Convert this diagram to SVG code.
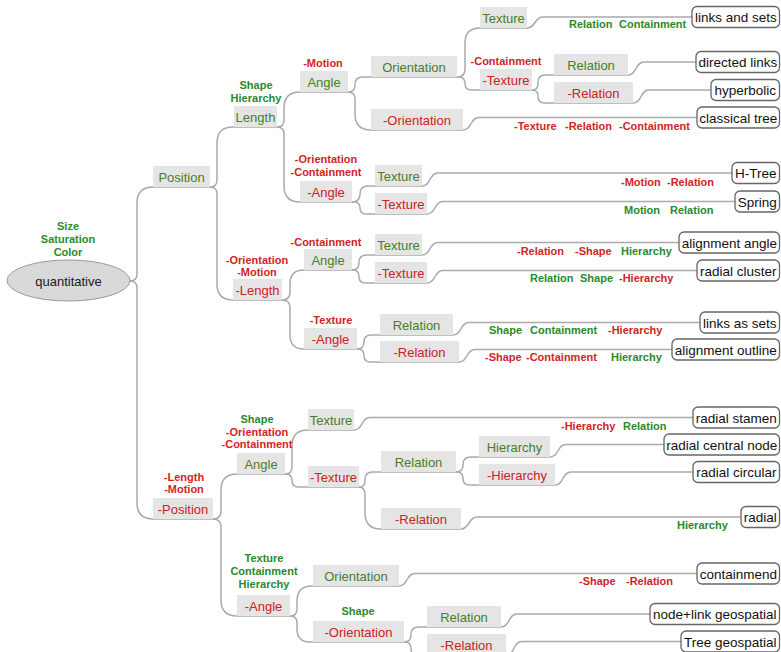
<svg xmlns="http://www.w3.org/2000/svg" width="781" height="652" viewBox="0 0 781 652">
<style>
.box{fill:#e5e5e5}
.nt{font-family:"Liberation Sans",Arial,sans-serif;font-size:13px;text-anchor:middle}
.g{fill:#4a7d25}
.r{fill:#cc2222}
.lb{font-family:"Liberation Sans",Arial,sans-serif;font-size:11px;font-weight:bold;text-anchor:middle}
.el{font-family:"Liberation Sans",Arial,sans-serif;font-size:11px;font-weight:bold}
.lg{fill:#2a8a2a}
.lr{fill:#d02525}
.leaf rect{fill:#fff;stroke:#666;stroke-width:1.3}
.lt{font-family:"Liberation Sans",Arial,sans-serif;font-size:13.5px;fill:#111;text-anchor:middle}
#connectors path{fill:none;stroke:#aaa;stroke-width:1.5}
</style>
<g id="connectors">
<path d="M130 281 Q137 281 137 274 L137 203 Q137 187 153 187 L210 187"/>
<path d="M130 281 Q137 281 137 288 L137 503 Q137 519 153 519 L213 519"/>
<path d="M210 187 Q217 187 217 180 L217 143 Q217 127 233 127 L277 127"/>
<path d="M210 187 Q217 187 217 194 L217 284 Q217 300 233 300 L282 300"/>
<path d="M277 127 Q284 127 284 120 L284 108 Q284 92 300 92 L348 92"/>
<path d="M277 127 Q284 127 284 134 L284 186 Q284 202 300 202 L352 202"/>
<path d="M348 92 Q355 92 355 85 L355 84.5 Q355 77 362.5 77 L457 77"/>
<path d="M348 92 Q355 92 355 99 L355 114 Q355 130 371 130 L463 130"/>
<path d="M457 77 Q465 77 465 69 L465 43 Q465 28 480 28 L527 28"/>
<path d="M457 77 L458.5 77 Q465 77 465 83.5 Q465 90 471.5 90 L532 90"/>
<path d="M532 90 Q538 90 538 84 L538 82.5 Q538 75 545.5 75 L628 75"/>
<path d="M532 90 Q538 90 538 96 L538 96.5 Q538 103 544.5 103 L633 103"/>
<path d="M352 202 Q360 202 360 194 Q360 186 368 186 L422 186"/>
<path d="M352 202 L354 202 Q360 202 360 208 Q360 214 366 214 L427 214"/>
<path d="M282 300 Q290 300 290 292 L290 284 Q290 270 304 270 L352 270"/>
<path d="M282 300 Q290 300 290 308 L290 335 Q290 349 304 349 L357 349"/>
<path d="M352 270 Q359 270 359 263 L359 262.5 Q359 255 366.5 255 L422 255"/>
<path d="M352 270 L352.5 270 Q359 270 359 276.5 Q359 283 365.5 283 L427 283"/>
<path d="M357 349 Q364 349 364 342 Q364 335 371 335 L453 335"/>
<path d="M357 349 L357.5 349 Q364 349 364 355.5 Q364 362 370.5 362 L459 362"/>
<path d="M213 519 Q221 519 221 511 L221 490 Q221 474 237 474 L285 474"/>
<path d="M213 519 Q221 519 221 527 L221 600 Q221 616 237 616 L290 616"/>
<path d="M285 474 Q292 474 292 467 L292 446 Q292 430 308 430 L354 430"/>
<path d="M285 474 L285.5 474 Q292 474 292 480.5 Q292 487 298.5 487 L359 487"/>
<path d="M359 487 Q365 487 365 481 L365 479.5 Q365 472 372.5 472 L456 472"/>
<path d="M359 487 Q365 487 365 495 L365 513 Q365 529 381 529 L461 529"/>
<path d="M456 472 Q463 472 463 465 L463 464.5 Q463 457 470.5 457 L550 457"/>
<path d="M456 472 L456.5 472 Q463 472 463 478.5 Q463 485 469.5 485 L555 485"/>
<path d="M290 616 Q297 616 297 609 L297 601 Q297 586 312 586 L399 586"/>
<path d="M290 616 Q297 616 297 623 L297 629 Q297 642 310 642 L404 642"/>
<path d="M404 642 Q411 642 411 635 L411 634.5 Q411 627 418.5 627 L501 627"/>
<path d="M404 642 L404.5 642 Q411 642 411 648.5 Q411 655 417.5 655 L506 655"/>
<path d="M527 28 C536 28 534 17 543 17 L692 17"/>
<path d="M628 75 C637 75 635 62 644 62 L696 62"/>
<path d="M633 103 C642 103 640 90 649 90 L711 90"/>
<path d="M463 130 C472 130 470 117.5 479 117.5 L697 117.5"/>
<path d="M422 186 C431 186 429 173 438 173 L732 173"/>
<path d="M427 214 C436 214 434 201.5 443 201.5 L735 201.5"/>
<path d="M422 255 C431 255 429 242.5 438 242.5 L679 242.5"/>
<path d="M427 283 C436 283 434 270.5 443 270.5 L697 270.5"/>
<path d="M453 335 C462 335 460 322.5 469 322.5 L700 322.5"/>
<path d="M459 362 C468 362 466 349.5 475 349.5 L672 349.5"/>
<path d="M354 430 C363 430 361 417.5 370 417.5 L693 417.5"/>
<path d="M550 457 C559 457 557 444.5 566 444.5 L664 444.5"/>
<path d="M555 485 C564 485 562 472 571 472 L693 472"/>
<path d="M461 529 C470 529 468 517 477 517 L741 517"/>
<path d="M399 586 C408 586 406 573.5 415 573.5 L697 573.5"/>
<path d="M501 627 C510 627 508 614 517 614 L650 614"/>
<path d="M506 655 C515 655 513 641.5 522 641.5 L681 641.5"/>
</g>
<g id="edge-labels" class="el">
<text y="28"><tspan x="569" class="lg">Relation</tspan><tspan x="619" class="lg">Containment</tspan></text>
<text y="130"><tspan x="514" class="lr">-Texture</tspan><tspan x="565" class="lr">-Relation</tspan><tspan x="619" class="lr">-Containment</tspan></text>
<text y="186"><tspan x="621" class="lr">-Motion</tspan><tspan x="667" class="lr">-Relation</tspan></text>
<text y="214"><tspan x="624" class="lg">Motion</tspan><tspan x="670" class="lg">Relation</tspan></text>
<text y="255"><tspan x="517" class="lr">-Relation</tspan><tspan x="575" class="lr">-Shape</tspan><tspan x="621" class="lg">Hierarchy</tspan></text>
<text y="282"><tspan x="530" class="lg">Relation</tspan><tspan x="580" class="lg">Shape</tspan><tspan x="619" class="lr">-Hierarchy</tspan></text>
<text y="334"><tspan x="489" class="lg">Shape</tspan><tspan x="530" class="lg">Containment</tspan><tspan x="608" class="lr">-Hierarchy</tspan></text>
<text y="361"><tspan x="485" class="lr">-Shape</tspan><tspan x="526" class="lr">-Containment</tspan><tspan x="611" class="lg">Hierarchy</tspan></text>
<text y="430"><tspan x="561" class="lr">-Hierarchy</tspan><tspan x="623" class="lg">Relation</tspan></text>
<text y="529"><tspan x="677" class="lg">Hierarchy</tspan></text>
<text y="585"><tspan x="579" class="lr">-Shape</tspan><tspan x="626" class="lr">-Relation</tspan></text>
</g>
<g id="root">
<ellipse cx="68.5" cy="280.5" rx="61.5" ry="20.5" fill="#d9d9d9" stroke="#9a9a9a" stroke-width="1"/>
<text x="68.5" y="286" class="nt" fill="#1a1a1a">quantitative</text>
<text x="68" y="230" class="lb lg">Size</text>
<text x="68" y="243" class="lb lg">Saturation</text>
<text x="68" y="256" class="lb lg">Color</text>
</g>
<g id="n-position"><rect class="box" x="153" y="166" width="57" height="21"/><text x="181.5" y="182" class="nt g">Position</text></g>
<g id="n-neg-position"><rect class="box" x="153" y="498" width="60" height="21"/><text x="183" y="514" class="nt r">-Position</text>
<text x="184" y="481" class="lb lr">-Length</text><text x="184" y="493" class="lb lr">-Motion</text></g>
<g id="n-length"><rect class="box" x="234" y="106" width="43" height="21"/><text x="255.5" y="122" class="nt g">Length</text>
<text x="256" y="89" class="lb lg">Shape</text><text x="256" y="102" class="lb lg">Hierarchy</text></g>
<g id="n-neg-length"><rect class="box" x="233" y="279" width="49" height="21"/><text x="257.5" y="295" class="nt r">-Length</text>
<text x="257" y="264" class="lb lr">-Orientation</text><text x="257" y="276" class="lb lr">-Motion</text></g>
<g id="n-l-angle"><rect class="box" x="300" y="71" width="48" height="21"/><text x="324" y="87" class="nt g">Angle</text>
<text x="323" y="67" class="lb lr">-Motion</text></g>
<g id="n-l-neg-angle"><rect class="box" x="300" y="181" width="52" height="21"/><text x="326" y="197" class="nt r">-Angle</text>
<text x="326" y="163" class="lb lr">-Orientation</text><text x="326" y="176" class="lb lr">-Containment</text></g>
<g id="n-l-a-orientation"><rect class="box" x="371" y="56" width="86" height="21"/><text x="414" y="72" class="nt g">Orientation</text></g>
<g id="n-l-a-neg-orientation"><rect class="box" x="371" y="109" width="92" height="21"/><text x="417" y="125" class="nt r">-Orientation</text></g>
<g id="n-l-a-o-texture"><rect class="box" x="480" y="7" width="47" height="21"/><text x="503.5" y="23" class="nt g">Texture</text></g>
<g id="n-l-a-o-neg-texture"><rect class="box" x="480" y="69" width="52" height="21"/><text x="506" y="85" class="nt r">-Texture</text>
<text x="506" y="65" class="lb lr">-Containment</text></g>
<g id="n-l-a-o-t-relation"><rect class="box" x="554" y="54" width="74" height="21"/><text x="591" y="70" class="nt g">Relation</text></g>
<g id="n-l-a-o-t-neg-relation"><rect class="box" x="554" y="82" width="79" height="21"/><text x="593.5" y="98" class="nt r">-Relation</text></g>
<g id="n-l-na-texture"><rect class="box" x="375" y="165" width="47" height="21"/><text x="398.5" y="181" class="nt g">Texture</text></g>
<g id="n-l-na-neg-texture"><rect class="box" x="375" y="193" width="52" height="21"/><text x="401" y="209" class="nt r">-Texture</text></g>
<g id="n-nl-angle"><rect class="box" x="304" y="249" width="48" height="21"/><text x="328" y="265" class="nt g">Angle</text>
<text x="326" y="246" class="lb lr">-Containment</text></g>
<g id="n-nl-neg-angle"><rect class="box" x="304" y="328" width="53" height="21"/><text x="330.5" y="344" class="nt r">-Angle</text>
<text x="331" y="324" class="lb lr">-Texture</text></g>
<g id="n-nl-a-texture"><rect class="box" x="375" y="234" width="47" height="21"/><text x="398.5" y="250" class="nt g">Texture</text></g>
<g id="n-nl-a-neg-texture"><rect class="box" x="375" y="262" width="52" height="21"/><text x="401" y="278" class="nt r">-Texture</text></g>
<g id="n-nl-na-relation"><rect class="box" x="380" y="314" width="73" height="21"/><text x="416.5" y="330" class="nt g">Relation</text></g>
<g id="n-nl-na-neg-relation"><rect class="box" x="380" y="341" width="79" height="21"/><text x="419.5" y="357" class="nt r">-Relation</text></g>
<g id="n-np-angle"><rect class="box" x="237" y="453" width="48" height="21"/><text x="261" y="469" class="nt g">Angle</text>
<text x="257" y="423" class="lb lg">Shape</text><text x="257" y="436" class="lb lr">-Orientation</text><text x="257" y="448" class="lb lr">-Containment</text></g>
<g id="n-np-neg-angle"><rect class="box" x="237" y="595" width="53" height="21"/><text x="263.5" y="611" class="nt r">-Angle</text>
<text x="264" y="562" class="lb lg">Texture</text><text x="264" y="575" class="lb lg">Containment</text><text x="264" y="588" class="lb lg">Hierarchy</text></g>
<g id="n-np-a-texture"><rect class="box" x="308" y="409" width="46" height="21"/><text x="331" y="425" class="nt g">Texture</text></g>
<g id="n-np-a-neg-texture"><rect class="box" x="308" y="466" width="51" height="21"/><text x="333.5" y="482" class="nt r">-Texture</text></g>
<g id="n-np-a-nt-relation"><rect class="box" x="381" y="451" width="75" height="21"/><text x="418.5" y="467" class="nt g">Relation</text></g>
<g id="n-np-a-nt-neg-relation"><rect class="box" x="381" y="508" width="80" height="21"/><text x="421" y="524" class="nt r">-Relation</text></g>
<g id="n-np-a-nt-r-hierarchy"><rect class="box" x="479" y="436" width="71" height="21"/><text x="514.5" y="452" class="nt g">Hierarchy</text></g>
<g id="n-np-a-nt-r-neg-hierarchy"><rect class="box" x="479" y="464" width="76" height="21"/><text x="517" y="480" class="nt r">-Hierarchy</text></g>
<g id="n-np-na-orientation"><rect class="box" x="313" y="565" width="86" height="21"/><text x="356" y="581" class="nt g">Orientation</text></g>
<g id="n-np-na-neg-orientation"><rect class="box" x="313" y="621" width="91" height="21"/><text x="358.5" y="637" class="nt r">-Orientation</text>
<text x="358" y="615" class="lb lg">Shape</text></g>
<g id="n-np-na-no-relation"><rect class="box" x="427" y="606" width="74" height="21"/><text x="464" y="622" class="nt g">Relation</text></g>
<g id="n-np-na-no-neg-relation"><rect class="box" x="427" y="634" width="79" height="21"/><text x="466.5" y="650" class="nt r">-Relation</text></g>
<g id="leaf-links-and-sets" class="leaf"><rect x="692" y="6.5" width="87.5" height="21" rx="5"/><text x="735.8" y="22" class="lt">links and sets</text></g>
<g id="leaf-directed-links" class="leaf"><rect x="696" y="51.5" width="83.5" height="21" rx="5"/><text x="737.8" y="67" class="lt">directed links</text></g>
<g id="leaf-hyperbolic" class="leaf"><rect x="711" y="79.5" width="68.5" height="21" rx="5"/><text x="745.3" y="95" class="lt">hyperbolic</text></g>
<g id="leaf-classical-tree" class="leaf"><rect x="697" y="107" width="82.5" height="21" rx="5"/><text x="738.3" y="122.5" class="lt">classical tree</text></g>
<g id="leaf-h-tree" class="leaf"><rect x="732" y="162.5" width="47.5" height="21" rx="5"/><text x="755.8" y="178" class="lt">H-Tree</text></g>
<g id="leaf-spring" class="leaf"><rect x="735" y="191" width="44.5" height="21" rx="5"/><text x="757.3" y="206.5" class="lt">Spring</text></g>
<g id="leaf-alignment-angle" class="leaf"><rect x="679" y="232" width="100.5" height="21" rx="5"/><text x="729.3" y="247.5" class="lt">alignment angle</text></g>
<g id="leaf-radial-cluster" class="leaf"><rect x="697" y="260" width="82.5" height="21" rx="5"/><text x="738.3" y="275.5" class="lt">radial cluster</text></g>
<g id="leaf-links-as-sets" class="leaf"><rect x="700" y="312" width="79.5" height="21" rx="5"/><text x="739.8" y="327.5" class="lt">links as sets</text></g>
<g id="leaf-alignment-outline" class="leaf"><rect x="672" y="339" width="107.5" height="21" rx="5"/><text x="725.8" y="354.5" class="lt">alignment outline</text></g>
<g id="leaf-radial-stamen" class="leaf"><rect x="693" y="407" width="86.5" height="21" rx="5"/><text x="736.3" y="422.5" class="lt">radial stamen</text></g>
<g id="leaf-radial-central-node" class="leaf"><rect x="664" y="434" width="115.5" height="21" rx="5"/><text x="721.8" y="449.5" class="lt">radial central node</text></g>
<g id="leaf-radial-circular" class="leaf"><rect x="693" y="461.5" width="86.5" height="21" rx="5"/><text x="736.3" y="477" class="lt">radial circular</text></g>
<g id="leaf-radial" class="leaf"><rect x="741" y="506.5" width="38.5" height="21" rx="5"/><text x="760.3" y="522" class="lt">radial</text></g>
<g id="leaf-containmend" class="leaf"><rect x="697" y="563" width="82.5" height="21" rx="5"/><text x="738.3" y="578.5" class="lt">containmend</text></g>
<g id="leaf-node-link-geospatial" class="leaf"><rect x="650" y="603.5" width="129.5" height="21" rx="5"/><text x="714.8" y="619" class="lt">node+link geospatial</text></g>
<g id="leaf-tree-geospatial" class="leaf"><rect x="681" y="631" width="98.5" height="21" rx="5"/><text x="730.3" y="646.5" class="lt">Tree geospatial</text></g>
</svg>
